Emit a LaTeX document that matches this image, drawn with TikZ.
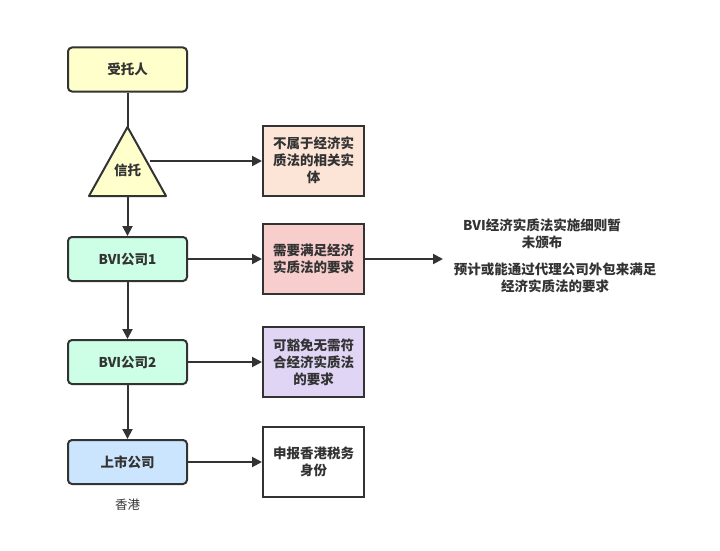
\documentclass[tikz,border=0pt]{standalone}
\usepackage{fontspec}
\setmainfont{Noto Sans CJK SC}
\usetikzlibrary{arrows.meta,shapes.geometric}
\definecolor{edge}{HTML}{333333}
\definecolor{cyellow}{HTML}{FFFFCC}
\definecolor{cpeach}{HTML}{FCE4D6}
\definecolor{cmint}{HTML}{CCFFE6}
\definecolor{cpink}{HTML}{F8CECC}
\definecolor{clav}{HTML}{E1D5F5}
\definecolor{cblue}{HTML}{CCE5FF}
\tikzset{
  every node/.style={font=\fontsize{13.5}{17}\selectfont\bfseries, text=edge},
  lbox/.style={draw=edge, line width=2pt, rounded corners=4pt, minimum width=119pt, minimum height=44pt, inner sep=0pt},
  rbox/.style={draw=edge, line width=2pt, minimum width=101pt, minimum height=70pt, align=center, inner sep=0pt},
  conn/.style={draw=edge, line width=2pt},
  arr/.style={conn, -{Triangle[length=10pt,width=10pt]}},
  plain/.style={align=center, inner sep=0pt}
}
\begin{document}
\begin{tikzpicture}[x=1pt,y=-1pt]
\useasboundingbox (0,0) rectangle (720,551);
\fill[white] (0,0) rectangle (720,551);
\node[lbox, fill=cyellow] (trustee) at (127.5,69.5) {受托人};
\coordinate (apex) at (127.5,127);
\coordinate (bl) at (89,196);
\coordinate (br) at (166,196);
\filldraw[draw=edge, fill=cyellow, line width=2pt, line join=round] (apex) -- (br) -- (bl) -- cycle;
\node[plain] (trust) at (127.5,170) {信托};
\coordinate (trustright) at (150,161);
\coordinate (trustbottom) at (127.5,196);
\node[rbox, fill=cpeach] (notrel) at (313.5,160.5) {不属于经济实\\质法的相关实\\体};
\node[lbox, fill=cmint] (bvi1) at (127.5,259) {BVI公司1};
\node[rbox, fill=cpink] (need) at (313.5,259) {需要满足经济\\实质法的要求};
\node[lbox, fill=cmint] (bvi2) at (127.5,362) {BVI公司2};
\node[rbox, fill=clav] (exempt) at (313.5,362) {可豁免无需符\\合经济实质法\\的要求};
\node[lbox, fill=cblue] (listed) at (127.5,462) {上市公司};
\node[rbox, fill=white] (declare) at (313.5,462) {申报香港税务\\身份};
\node[plain, font=\fontsize{12.5}{15}\selectfont] (hk) at (127.5,505) {香港};
\coordinate (note) at (443,259);
\node[plain] (note1) at (542,234) {BVI经济实质法实施细则暂\\未颁布};
\node[plain] (note2) at (555,278) {预计或能通过代理公司外包来满足\\经济实质法的要求};
\draw[conn] (trustee.south) -- (apex);
\draw[arr] (trustright) -- (notrel.west |- trustright);
\draw[arr] (trustbottom) -- (bvi1.north);
\draw[arr] (bvi1.east) -- (need.west);
\draw[arr] (need.east) -- (note);
\draw[arr] (bvi1.south) -- (bvi2.north);
\draw[arr] (bvi2.east) -- (exempt.west);
\draw[arr] (bvi2.south) -- (listed.north);
\draw[arr] (listed.east) -- (declare.west);
\end{tikzpicture}
\end{document}
